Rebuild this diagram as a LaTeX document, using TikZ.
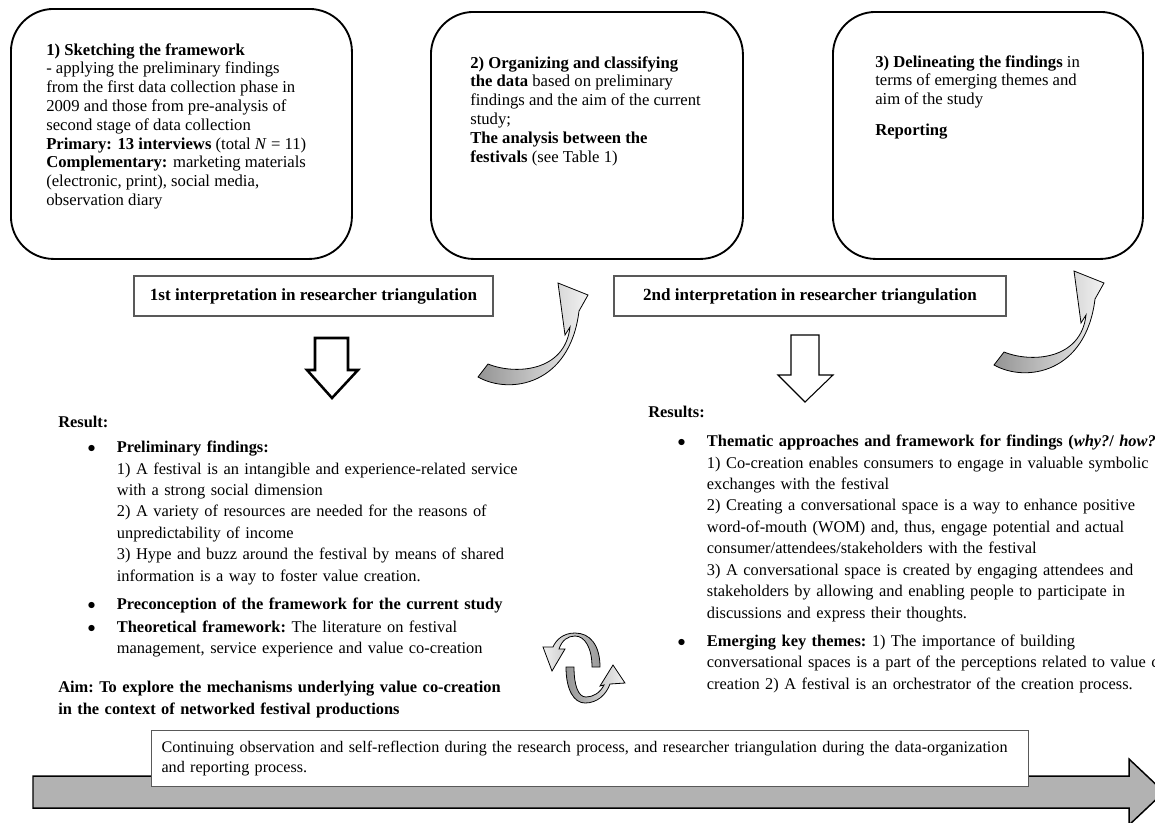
\documentclass[tikz,border=0pt]{standalone}
\usepackage{fontspec}
\setmainfont{Liberation Serif}
\usetikzlibrary{positioning}
\newcommand{\resitem}[1]{\par\hangindent=44pt\hangafter=0\noindent\llap{$\bullet$\hspace{16pt}}#1\par}
\begin{document}
\begin{tikzpicture}[x=0.75pt,y=-0.75pt,
  stage/.style={draw,line width=1.4pt,rounded corners=32pt,anchor=north west,inner sep=0pt},
  stagetext/.style={anchor=north west,align=left,inner sep=0pt,font=\fontsize{12.5}{14.1}\selectfont},
  interp/.style={draw=black!65,line width=0.8pt,minimum height=30pt,font=\fontsize{12.8}{14}\selectfont\bfseries},
  hollow/.style={draw,fill=white,line join=miter},
  resblock/.style={anchor=north west,inner sep=0pt,text width=420pt,align=left,font=\fontsize{12.3}{16.1}\selectfont\frenchspacing},
  bandarrow/.style={draw,line width=0.6pt,left color=black!42,right color=black!5},
  note/.style={draw=black!65,line width=0.8pt,fill=white,anchor=north west,minimum width=658pt,minimum height=42pt,inner xsep=7.5pt,text width=643pt,align=left,font=\fontsize{12.1}{15}\selectfont}]
  \useasboundingbox (0,0) rectangle (1155,822);
  \node[stage,minimum width=255.75pt,minimum height=187.5pt] (s1) at (10,8) {};
  \node[stage,minimum width=234pt,minimum height=185.25pt] (s2) at (430,11) {};
  \node[stage,minimum width=232.5pt,minimum height=185.25pt] (s3) at (832,11) {};
  \node[stagetext] (t1) at (46,43) {\textbf{1) Sketching the framework}\\
    - applying the preliminary findings\\
    from the first data collection phase in\\
    2009 and those from pre-analysis of\\
    second stage of data collection\\
    \textbf{Primary: 13 interviews} (total \textit{N} = 11)\\
    \textbf{Complementary:} marketing materials\\
    (electronic, print), social media,\\
    observation diary};
  \node[stagetext] (t2) at (470,56) {\textbf{2) Organizing and classifying}\\
    \textbf{the data} based on preliminary\\
    findings and the aim of the current\\
    study;\\
    \textbf{The analysis between the}\\
    \textbf{festivals} (see Table 1)};
  \node[stagetext] (t3) at (875,55) {\textbf{3) Delineating the findings} in\\
    terms of emerging themes and\\
    aim of the study\\[9pt]
    \textbf{Reporting}};
  \node[interp,minimum width=269.25pt] (lab1) at (313.5,296) {1st interpretation in researcher triangulation};
  \node[interp,minimum width=294pt] (lab2) at (810,296) {2nd interpretation in researcher triangulation};
  \draw[hollow,line width=1.9pt] (315,338) -- (348,338) -- (348,370) -- (358,370) -- (332,398) -- (307,370) -- (315,370) -- cycle;
  \draw[hollow,line width=0.8pt] (791,335) -- (819,335) -- (819,375) -- (833,375) -- (805,402) -- (778,375) -- (791,375) -- cycle;
  \draw[bandarrow] (488,364) -- (478,377) .. controls (510,395) and (570,385) .. (579,311) -- (588,295) -- (558,283) -- (565,335) -- (570,327) .. controls (565,372) and (515,375) .. (488,364) -- cycle;
  \begin{scope}[shift={(516,-12)}]
    \draw[bandarrow] (488,364) -- (478,377) .. controls (510,395) and (570,385) .. (579,311) -- (588,295) -- (558,283) -- (565,335) -- (570,327) .. controls (565,372) and (515,375) .. (488,364) -- cycle;
  \end{scope}
  \node[resblock] (res1) at (58,416) {\noindent\textbf{Result:}\par\vspace{2.6pt}
    \resitem{\textbf{Preliminary findings:}\newline
    1) A festival is an intangible and experience-related service\newline
    with a strong social dimension\newline
    2) A variety of resources are needed for the reasons of\newline
    unpredictability of income\newline
    3) Hype and buzz around the festival by means of shared\newline
    information is a way to foster value creation.}\vspace{5pt}
    \resitem{\textbf{Preconception of the framework for the current study}}\vspace{1pt}
    \resitem{\textbf{Theoretical framework:} The literature on festival\newline
    management, service experience and value co-creation}\vspace{13pt}
    \noindent\textbf{Aim: To explore the mechanisms underlying value co-creation\newline
    in the context of networked festival productions}\par};
  \node[resblock] (res2) at (648,406) {\noindent\textbf{Results:}\par\vspace{5.6pt}
    \resitem{\textbf{Thematic approaches and framework for findings (\textit{why?}/ \textit{how?})}\newline
    1) Co-creation enables consumers to engage in valuable symbolic\newline
    exchanges with the festival\newline
    2) Creating a conversational space is a way to enhance positive\newline
    word-of-mouth (WOM) and, thus, engage potential and actual\newline
    consumer/attendees/stakeholders with the festival\newline
    3) A conversational space is created by engaging attendees and\newline
    stakeholders by allowing and enabling people to participate in\newline
    discussions and express their thoughts.}\vspace{5pt}
    \resitem{\textbf{Emerging key themes:} 1) The importance of building\newline
    conversational spaces is a part of the perceptions related to value co-\newline
    creation 2) A festival is an orchestrator of the creation process.}};
  \draw[bandarrow,left color=black!6,right color=black!40] (600,667) .. controls (600,645) and (590,633) .. (575,633) .. controls (563,633) and (556,640) .. (553,647) -- (543,647) -- (552,671) -- (565,649) -- (559,649) .. controls (562,640) and (568,636) .. (575,636) .. controls (585,636) and (592,648) .. (592,667) -- cycle;
  \draw[bandarrow] (566,667) .. controls (566,690) and (574,703) .. (585,703) .. controls (597,703) and (606,695) .. (610,684) -- (625,683) -- (613,665) -- (600,686) -- (604,685) .. controls (600,693) and (593,697) .. (586,697) .. controls (578,697) and (574,685) .. (574,667) -- cycle;
  \draw[fill=black!30,line width=1.1pt] (33,776) -- (1129,776) -- (1129,759) -- (1164,792) -- (1129,825) -- (1129,808) -- (33,808) -- cycle;
  \node[note] (obs) at (151,730) {Continuing observation and self-reflection during the research process, and researcher triangulation during the data-organization\\
    and reporting process.};
\end{tikzpicture}
\end{document}
